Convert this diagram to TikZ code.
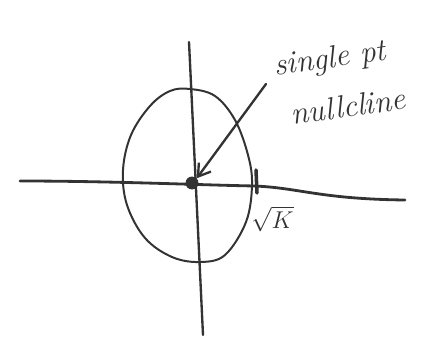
\documentclass[tikz,border=0pt]{standalone}
\usepackage{xcolor}
\usetikzlibrary{arrows.meta, positioning}
\definecolor{ink}{HTML}{333333}

\begin{document}
\begin{tikzpicture}[
    x=0.03cm, y=-0.03cm,
    pen/.style={draw=ink, line width=2pt, line cap=round},
    note/.style={font=\fontsize{27}{30}\selectfont\itshape, text=ink, inner sep=0pt},
    arrow/.style={pen, -{Straight Barb[length=3.5mm, width=4.5mm]}}
]
\useasboundingbox (0,0) rectangle (425,339);
% axes
\draw[pen, line width=2.4pt] (20,181) .. controls (110,181) and (200,185) .. (255,186)
    .. controls (300,188) and (320,199) .. (405,200);
\draw[pen] (189,42) -- (203,335);
% egg-shaped closed orbit
\draw[pen, line width=1.7pt] plot[smooth cycle, tension=0.6] coordinates {
    (190,89) (215,96) (235,120) (248,155) (252,185) (246,222) (225,255)
    (200,262) (172,257) (145,238) (127,205) (123,170) (131,135) (150,106) (170,91)};
% fixed point
\node[circle, fill=ink, inner sep=0pt, minimum size=11pt] (origin) at (192,183) {};
% tick on the x axis
\coordinate (tickTop) at (256,170);
\coordinate (tickBot) at (257,193);
\draw[pen, line width=3pt] (tickTop) -- (tickBot);
\node[note, font=\huge, anchor=north west, inner sep=1pt] (sqrtk) at (250,205) {$\sqrt{K}$};
% label
\node[note, rotate=8] (single) at (330,60) {single pt};
\node[note, rotate=8] (nullcline) at (348,106) {nullcline};
\coordinate (tail) at (266,84);
\draw[arrow] (tail) -- (origin.north east);
\end{tikzpicture}
\end{document}
